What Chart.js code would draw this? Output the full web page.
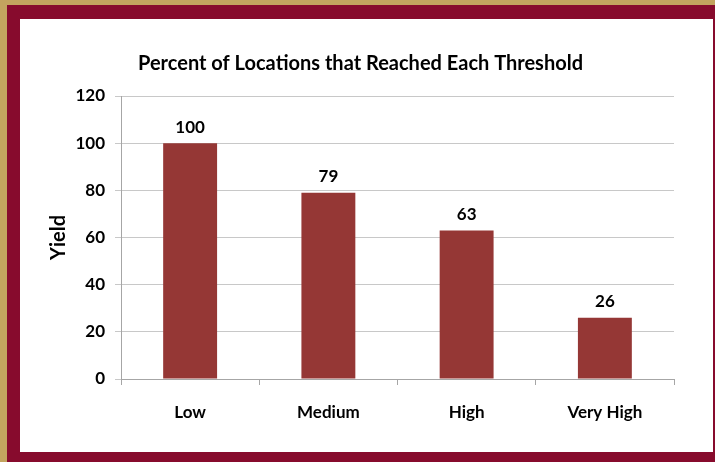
<!DOCTYPE html>
<html>
<head>
<meta charset="utf-8">
<script src="https://cdn.jsdelivr.net/npm/chart.js@4"></script>
<style>
  html, body { margin: 0; padding: 0; }
  body { width: 715px; height: 462px; background: #c3a45f; position: relative; overflow: hidden; }
  #frame { position: absolute; left: 7px; top: 5px; width: 708px; height: 457px; background: #870b2d; }
  #box { position: absolute; left: 20px; top: 19px; width: 693px; height: 433px; background: #ffffff; }
</style>
</head>
<body>
<div id="frame"></div>
<div id="box"><canvas id="myChart" width="693" height="433"></canvas></div>
<script>
const categories = ['Low', 'Medium', 'High', 'Very High'];
const values = [100, 79, 63, 26];
const yTicks = [0, 20, 40, 60, 80, 100, 120];

const fontName = "Lato, 'Open Sans', sans-serif";

// value labels above each bar
const barLabels = {
    id: 'barLabels',
    afterDatasetsDraw(chart) {
        const ctx = chart.ctx;
        const meta = chart.getDatasetMeta(0);
        ctx.save();
        ctx.font = 'bold 17px ' + fontName;
        ctx.fillStyle = '#000000';
        ctx.textAlign = 'center';
        ctx.textBaseline = 'middle';
        meta.data.forEach((bar, i) => {
            ctx.fillText(values[i], bar.x, bar.y - 16);
        });
        ctx.restore();
    }
};

function makeChart() {
    const ctx = document.getElementById('myChart');
    const configuration = {
        type: 'bar',
        data: {
            labels: categories,
            datasets: [{
                data: values,
                backgroundColor: '#953735',
                borderWidth: 0,
                categoryPercentage: 0.39,
                barPercentage: 1.0
            }]
        },
        options: {
            responsive: false,
            animation: false,
            layout: {
                padding: { left: 27, right: 39, top: 0, bottom: 0 }
            },
            scales: {
                x: {
                    grid: {
                        offset: true,
                        drawOnChartArea: false,
                        drawTicks: true,
                        tickLength: 6,
                        color: '#a6a6a6'
                    },
                    border: { color: '#a6a6a6' },
                    ticks: {
                        color: '#000000',
                        padding: 17,
                        font: { family: fontName, size: 17, weight: 'bold' }
                    },
                    afterFit(scale) { scale.height = 73; }
                },
                y: {
                    min: 0,
                    max: 120,
                    afterBuildTicks(scale) {
                        scale.ticks = yTicks.map(v => ({ value: v }));
                    },
                    grid: {
                        color: '#c8c8c8',
                        tickLength: 6
                    },
                    border: { color: '#a6a6a6' },
                    ticks: {
                        color: '#000000',
                        padding: 10,
                        font: { family: fontName, size: 17, weight: 'bold' }
                    },
                    title: {
                        display: true,
                        text: 'Yield',
                        color: '#000000',
                        padding: 0,
                        font: { family: fontName, size: 20, weight: 'bold' }
                    },
                    afterFit(scale) { scale.width = 74; }
                }
            },
            plugins: {
                legend: { display: false },
                tooltip: { enabled: false },
                title: {
                    display: true,
                    text: 'Percent of Locations that Reached Each Threshold',
                    color: '#000000',
                    font: { family: fontName, size: 20, weight: 'bold' },
                    padding: { top: 33, bottom: 20 }
                }
            }
        },
        plugins: [barLabels]
    };
    new Chart(ctx, configuration);
}

makeChart();
</script>
</body>
</html>
